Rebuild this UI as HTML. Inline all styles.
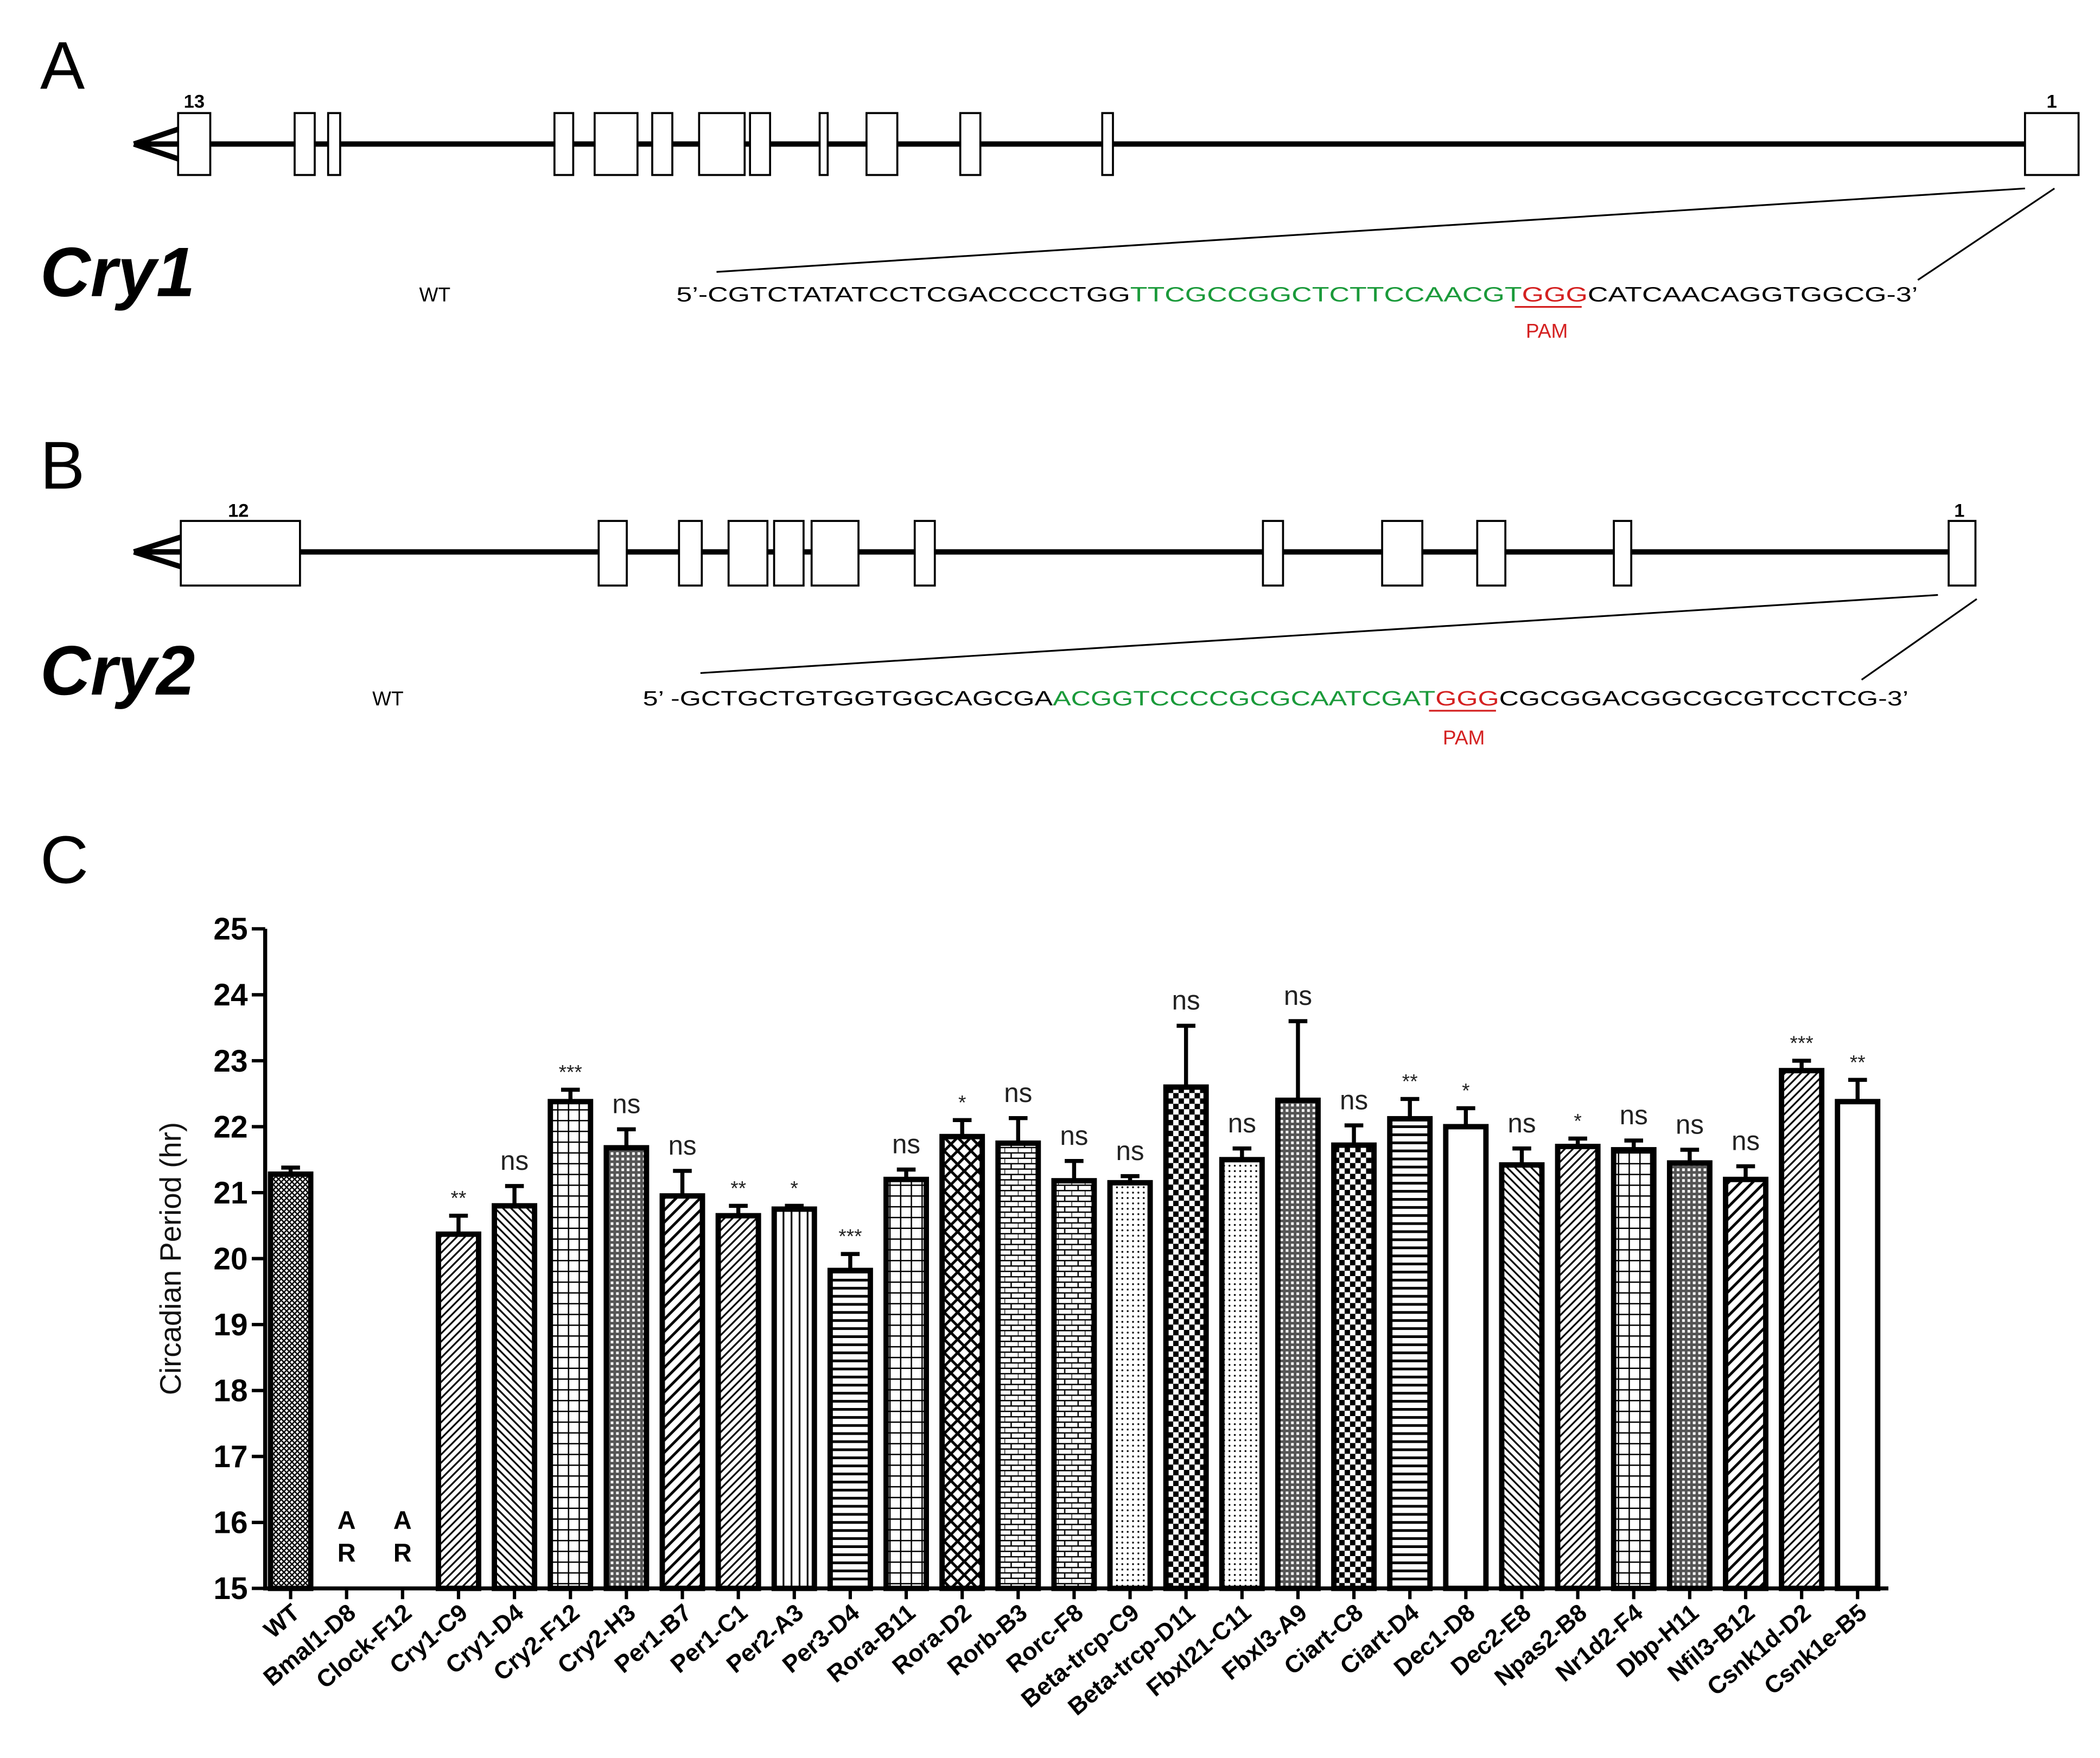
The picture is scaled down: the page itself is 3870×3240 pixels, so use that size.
<!DOCTYPE html>
<html><head><meta charset="utf-8"><style>
html,body{margin:0;padding:0;background:#fff;}
svg{display:block;}
text{font-family:"Liberation Sans",Arial,sans-serif;}
</style></head><body>
<svg id="fig" width="3870" height="3240" viewBox="0 0 1568 1306" preserveAspectRatio="none" xmlns="http://www.w3.org/2000/svg">
<defs>
<pattern id="p0" width="4" height="4" patternUnits="userSpaceOnUse"><rect width="4" height="4" fill="#fff"/><path d="M0 0L4 4M4 0L0 4" stroke="#000" stroke-width="1"/></pattern>
<pattern id="p1" width="6" height="6" patternUnits="userSpaceOnUse"><rect width="6" height="6" fill="#fff"/><path d="M-1 7L7 -1M-1 1L1 -1M5 7L7 5" stroke="#000" stroke-width="1.3"/></pattern>
<pattern id="p2" width="6" height="6" patternUnits="userSpaceOnUse"><rect width="6" height="6" fill="#fff"/><path d="M-1 -1L7 7M5 -1L7 1M-1 5L1 7" stroke="#000" stroke-width="1.3"/></pattern>
<pattern id="p3" width="8" height="8" patternUnits="userSpaceOnUse"><rect width="8" height="8" fill="#fff"/><path d="M0 0.5H8M0.5 0V8" stroke="#000" stroke-width="1"/></pattern>
<pattern id="p4" width="9" height="9" patternUnits="userSpaceOnUse"><rect width="9" height="9" fill="#fff"/><path d="M-1 10L10 -1M-1 1L1 -1M8 10L10 8" stroke="#000" stroke-width="2"/></pattern>
<pattern id="p5" width="6" height="6" patternUnits="userSpaceOnUse"><rect width="6" height="6" fill="#fff"/><path d="M0 3H6" stroke="#000" stroke-width="2"/></pattern>
<pattern id="p6" width="6" height="6" patternUnits="userSpaceOnUse"><rect width="6" height="6" fill="#fff"/><path d="M3 0V6" stroke="#000" stroke-width="1.3"/></pattern>
<pattern id="p7" width="4" height="4" patternUnits="userSpaceOnUse"><rect width="4" height="4" fill="#fff"/><circle cx="2" cy="2" r="0.7" fill="#000"/></pattern>
<pattern id="p8" width="10" height="8" patternUnits="userSpaceOnUse"><rect width="10" height="8" fill="#fff"/><path d="M0 0.5H10M0 4.5H10M5 0V4M0 4V8" stroke="#000" stroke-width="1"/></pattern>
<pattern id="p9" width="10" height="10" patternUnits="userSpaceOnUse"><rect width="10" height="10" fill="#fff"/><path d="M0 0L10 10M10 0L0 10" stroke="#000" stroke-width="2"/></pattern>
<pattern id="p10" width="4" height="4" patternUnits="userSpaceOnUse"><rect width="4" height="4" fill="#555"/><rect width="2" height="2" fill="#fff"/></pattern>
<pattern id="p12" width="8" height="8" patternUnits="userSpaceOnUse"><rect width="8" height="8" fill="#fff"/><rect width="4" height="4" fill="#000"/><rect x="4" y="4" width="4" height="4" fill="#000"/></pattern>
<pattern id="p13" width="4" height="4" patternUnits="userSpaceOnUse"><rect width="4" height="4" fill="#fff"/></pattern>
</defs>

<!-- Panel A -->
<text x="30" y="66" font-size="50">A</text>
<g>
<line x1="110" y1="107" x2="1512" y2="107" stroke="#000" stroke-width="4"/>
<path d="M100 107L133 96M100 107L133 118M100 107H133" stroke="#000" stroke-width="4" fill="none"/>
<g id="cry1ex" fill="#fff" stroke="#000" stroke-width="1.5"></g>
<text x="145" y="80" font-size="14" font-weight="bold" text-anchor="middle">13</text>
<text x="1532" y="80" font-size="14" font-weight="bold" text-anchor="middle">1</text>
<line x1="1512" y1="140" x2="535" y2="202" stroke="#000" stroke-width="1.3"/>
<line x1="1534" y1="140" x2="1432" y2="208" stroke="#000" stroke-width="1.3"/>
</g>
<text x="30" y="220" font-size="52" font-weight="bold" font-style="italic">Cry1</text>
<text x="313" y="224" font-size="15">WT</text>
<text x="505" y="224" font-size="15.5" textLength="927" lengthAdjust="spacingAndGlyphs">5’-CGTCTATATCCTCGACCCCTGG<tspan fill="#1a9a3a">TTCGCCGGCTCTTCCAACGT</tspan><tspan fill="#d42020">GGG</tspan>CATCAACAGGTGGCG-3’</text>
<line x1="1131" y1="228" x2="1181" y2="228" stroke="#d42020" stroke-width="1.3"/>
<text x="1155" y="251" font-size="15" fill="#d42020" text-anchor="middle">PAM</text>

<!-- Panel B -->
<text x="30" y="363" font-size="50">B</text>
<g>
<line x1="110" y1="410" x2="1455" y2="410" stroke="#000" stroke-width="4"/>
<path d="M100 410L135 399M100 410L135 421M100 410H135" stroke="#000" stroke-width="4" fill="none"/>
<g id="cry2ex" fill="#fff" stroke="#000" stroke-width="1.5"></g>
<text x="178" y="384" font-size="14" font-weight="bold" text-anchor="middle">12</text>
<text x="1463" y="384" font-size="14" font-weight="bold" text-anchor="middle">1</text>
<line x1="1447" y1="442" x2="523" y2="500" stroke="#000" stroke-width="1.3"/>
<line x1="1476" y1="445" x2="1390" y2="505" stroke="#000" stroke-width="1.3"/>
</g>
<text x="30" y="516" font-size="52" font-weight="bold" font-style="italic">Cry2</text>
<text x="278" y="524" font-size="15">WT</text>
<text x="480" y="524" font-size="15.5" textLength="945" lengthAdjust="spacingAndGlyphs">5’ -GCTGCTGTGGTGGCAGCGA<tspan fill="#1a9a3a">ACGGTCCCCGCGCAATCGAT</tspan><tspan fill="#d42020">GGG</tspan>CGCGGACGGCGCGTCCTCG-3’</text>
<line x1="1067" y1="528" x2="1117" y2="528" stroke="#d42020" stroke-width="1.3"/>
<text x="1093" y="553" font-size="15" fill="#d42020" text-anchor="middle">PAM</text>

<!-- Panel C -->
<text x="30" y="656" font-size="50">C</text>
<g id="chart"></g>
</svg>
<script>
const NS='http://www.w3.org/2000/svg';
const categories=['WT','Bmal1-D8','Clock-F12','Cry1-C9','Cry1-D4','Cry2-F12','Cry2-H3','Per1-B7','Per1-C1','Per2-A3','Per3-D4','Rora-B11','Rora-D2','Rorb-B3','Rorc-F8','Beta-trcp-C9','Beta-trcp-D11','Fbxl21-C11','Fbxl3-A9','Ciart-C8','Ciart-D4','Dec1-D8','Dec2-E8','Npas2-B8','Nr1d2-F4','Dbp-H11','Nfil3-B12','Csnk1d-D2','Csnk1e-B5'];
const values=[21.28,null,null,20.37,20.8,22.38,21.68,20.95,20.65,20.75,19.82,21.2,21.85,21.75,21.18,21.15,22.6,21.5,22.4,21.72,22.12,22.0,21.42,21.7,21.65,21.45,21.2,22.85,22.38];
const errors=[0.1,0,0,0.28,0.3,0.18,0.28,0.38,0.15,0.05,0.25,0.15,0.25,0.38,0.3,0.1,0.93,0.17,1.2,0.3,0.3,0.28,0.25,0.12,0.14,0.2,0.2,0.15,0.33];
const signif=['','AR','AR','**','ns','***','ns','ns','**','*','***','ns','*','ns','ns','ns','ns','ns','ns','ns','**','*','ns','*','ns','ns','ns','***','**'];
const patterns=['p0','','','p1','p2','p3','p10','p4','p1','p6','p5','p3','p9','p8','p8','p7','p12','p7','p10','p12','p5','p13','p2','p1','p3','p10','p4','p1','p13'];
const yTicks=[15,16,17,18,19,20,21,22,23,24,25];
const cry1Exons=[[133,157],[220,235],[245,254],[414,428],[444,476],[487,502],[522,556],[560,575],[612,618],[647,670],[717,732],[823,831],[1512,1552]];
const cry2Exons=[[135,224],[447,468],[507,524],[544,573],[578,600],[606,641],[683,698],[943,958],[1032,1062],[1103,1124],[1205,1218],[1455,1475]];

function mk(tag,attrs,parent){const e=document.createElementNS(NS,tag);for(const k in attrs)e.setAttribute(k,attrs[k]);parent.appendChild(e);return e;}
const g1=document.getElementById('cry1ex');
cry1Exons.forEach((e,i)=>{const r=mk('rect',{x:e[0],y:84,width:e[1]-e[0],height:46},g1);

});
const g2=document.getElementById('cry2ex');
cry2Exons.forEach((e,i)=>{const r=mk('rect',{x:e[0],y:387,width:e[1]-e[0],height:48},g2);

});

const ch=document.getElementById('chart');
const X0=198,YTOP=690,YBOT=1180,YMIN=15,YMAX=25;
const y=v=>YBOT-(v-YMIN)/(YMAX-YMIN)*(YBOT-YTOP);
const firstC=217,lastC=1387;
const x=i=>firstC+i*(lastC-firstC)/(categories.length-1);
const BW=30;
mk('line',{x1:X0,y1:YTOP,x2:X0,y2:YBOT+1.5,stroke:'#000','stroke-width':3},ch);
mk('line',{x1:X0-1.5,y1:YBOT,x2:x(categories.length-1)+BW/2+8,y2:YBOT,stroke:'#000','stroke-width':3},ch);
yTicks.forEach(t=>{
 mk('line',{x1:X0-10,y1:y(t),x2:X0,y2:y(t),stroke:'#000','stroke-width':2.5},ch);
 const tx=mk('text',{x:X0-13,y:y(t)+8,'font-size':23,'font-weight':'bold','text-anchor':'end'},ch);
 tx.textContent=t;
 
 
});
const yt=mk('text',{x:0,y:0,'font-size':22,'text-anchor':'middle',fill:'#111',transform:'translate(135,935) rotate(-90)'},ch);
yt.textContent='Circadian Period (hr)';


categories.forEach((c,i)=>{
 const cx=x(i);
 mk('line',{x1:cx,y1:YBOT,x2:cx,y2:YBOT+8,stroke:'#000','stroke-width':2.5},ch);
 const lb=mk('text',{x:0,y:0,'font-size':18,'font-weight':'bold','text-anchor':'end',transform:`translate(${cx+8},${YBOT+20}) rotate(-40)`},ch);
 lb.textContent=c;
 
 
 const v=values[i];
 if(v!==null){
  const top=y(v),etop=y(v+errors[i]);
  const el=mk('line',{x1:cx,y1:etop,x2:cx,y2:top,stroke:'#000','stroke-width':3},ch);
  
  
  mk('line',{x1:cx-7,y1:etop,x2:cx+7,y2:etop,stroke:'#000','stroke-width':3},ch);
  const b=mk('rect',{x:cx-BW/2,y:top,width:BW,height:YBOT-top,fill:'url(#'+patterns[i]+')',stroke:'#000','stroke-width':4},ch);
  
  
  const s=signif[i];
  if(s){
   const isStar=s.indexOf('*')>=0;
   const st=mk('text',{x:cx,y:etop-(isStar?8:12),'font-size':isStar?15:20,'text-anchor':'middle',fill:'#222'},ch);
   st.textContent=s;
   
   
  }
 } else {
  const a=mk('text',{x:cx,y:1136,'font-size':19,'font-weight':'bold','text-anchor':'middle'},ch);
  a.textContent='A';
  
  
  const r=mk('text',{x:cx,y:1160,'font-size':19,'font-weight':'bold','text-anchor':'middle'},ch);
  r.textContent='R';
  
  
 }
});
</script>
</body></html>
